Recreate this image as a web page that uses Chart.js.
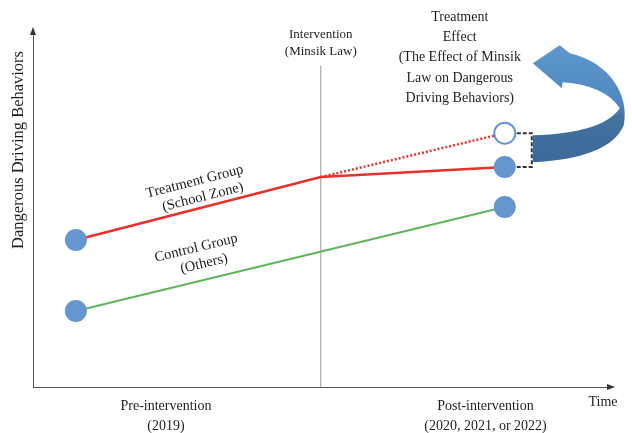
<!DOCTYPE html>
<html>
<head>
<meta charset="utf-8">
<script src="https://cdn.jsdelivr.net/npm/chart.js@4.4.0/dist/chart.umd.min.js"></script>
<style>
  html, body { margin: 0; padding: 0; background: #fff; }
  #wrap { width: 632px; height: 433px; }
</style>
</head>
<body>
<div id="wrap"><canvas id="chart"></canvas></div>
<script>
// Périodes (axe x) : 0 = avant, 1 = après
const prePeriod = 0;
const postPeriod = 1;
const interventionTime = 0.571;

// Séries
const treatmentValues = [4.12, 5.88, 6.16];      // pré, intervention, post
const counterfactualValues = [5.88, 7.11];       // intervention, post (sans la loi)
const controlValues = [2.13, 5.04];              // pré, post
const interventionLineTop = 9.0;

// Étiquettes
const periodLabels = [['Pre-intervention', '(2019)'], ['Post-intervention', '(2020, 2021, or 2022)']];
const periodLabelAt = [0.21, 0.955];
const yTitle = 'Dangerous Driving Behaviors';
const xTitle = 'Time';
const interventionLabel = ['Intervention', '(Minsik Law)'];
const effectLabel = ['Treatment', 'Effect', '(The Effect of Minsik', 'Law on Dangerous', 'Driving Behaviors)'];
const treatmentLabel = ['Treatment Group', '(School Zone)'];
const controlLabel = ['Control Group', '(Others)'];

const SERIF = '"Liberation Serif", "DejaVu Serif", serif';
const BLUE = '#6596cf';
const RED = '#e8312b';
const GREEN = '#5db75a';

// Annotations : flèches des axes, textes, accolade et flèche courbe
const annotations = {
    id: 'annotations',
    afterDraw(chart) {
        const ctx = chart.ctx;
        const x = chart.scales.x;
        const y = chart.scales.y;
        const area = chart.chartArea;

        ctx.save();
        // flèches des axes
        ctx.fillStyle = '#333';
        ctx.beginPath();
        ctx.moveTo(area.left, area.top - 3);
        ctx.lineTo(area.left - 3, area.top + 5);
        ctx.lineTo(area.left + 3, area.top + 5);
        ctx.fill();
        ctx.beginPath();
        ctx.moveTo(area.right + 3, area.bottom);
        ctx.lineTo(area.right - 5, area.bottom - 3);
        ctx.lineTo(area.right - 5, area.bottom + 3);
        ctx.fill();

        ctx.fillStyle = '#1e1e1e';
        ctx.textAlign = 'center';
        ctx.textBaseline = 'middle';

        // titre de l'axe y
        ctx.save();
        ctx.translate(19, y.getPixelForValue(6.64));
        ctx.rotate(-Math.PI / 2);
        ctx.font = '16.5px ' + SERIF;
        ctx.fillText(yTitle, 0, 0);
        ctx.restore();

        // titre de l'axe x
        ctx.font = '14px ' + SERIF;
        ctx.fillText(xTitle, area.right - 9, area.bottom + 15);

        // intervention
        const ix = x.getPixelForValue(interventionTime);
        ctx.font = '13px ' + SERIF;
        interventionLabel.forEach((t, i) => ctx.fillText(t, ix, 35 + i * 17));

        // effet du traitement
        const px = x.getPixelForValue(postPeriod);
        ctx.font = '14px ' + SERIF;
        effectLabel.forEach((t, i) => ctx.fillText(t, px - 45, 17 + i * 20.3));

        // étiquettes des groupes, inclinées le long des droites
        const drawRotated = (lines, xv, yv, dy, angle) => {
            ctx.save();
            ctx.translate(x.getPixelForValue(xv), y.getPixelForValue(yv) - dy);
            ctx.rotate(angle);
            ctx.font = '14.5px ' + SERIF;
            lines.forEach((t, i) => ctx.fillText(t, i * 4, (i - 0.5) * 17));
            ctx.restore();
        };
        const tSlope = (treatmentValues[1] - treatmentValues[0]) / interventionTime;
        drawRotated(treatmentLabel, 0.282, treatmentValues[0] + tSlope * 0.282, 19, -0.25);
        const cSlope = controlValues[1] - controlValues[0];
        drawRotated(controlLabel, 0.285, controlValues[0] + cSlope * 0.285, 25, -0.235);

        // accolade en pointillés entre contrefactuel et traité
        const cfY = y.getPixelForValue(counterfactualValues[1]);
        const trY = y.getPixelForValue(treatmentValues[2]);
        ctx.strokeStyle = '#333';
        ctx.lineWidth = 2;
        ctx.setLineDash([4, 2]);
        ctx.beginPath();
        ctx.moveTo(px + 12, cfY);
        ctx.lineTo(px + 27, cfY);
        ctx.lineTo(px + 27, trY);
        ctx.lineTo(px + 12, trY);
        ctx.stroke();
        ctx.setLineDash([]);

        // flèche courbe bleue
        const bx = px + 28;
        const by = cfY;
        const grad = ctx.createLinearGradient(0, by - 90, 0, by + 30);
        grad.addColorStop(0, '#5e97cd');
        grad.addColorStop(0.5, '#5089c1');
        grad.addColorStop(0.62, '#42729f');
        grad.addColorStop(1, '#3d6a98');
        ctx.fillStyle = grad;
        ctx.beginPath();
        ctx.moveTo(bx, by + 2);
        ctx.lineTo(bx, by + 29);
        ctx.quadraticCurveTo(bx + 77, by + 25, bx + 91, by - 8);
        ctx.bezierCurveTo(bx + 97, by - 38, bx + 77, by - 71, bx + 37, by - 80);
        ctx.lineTo(bx + 27, by - 88);
        ctx.lineTo(bx, by - 70);
        ctx.lineTo(bx + 29, by - 45);
        ctx.lineTo(bx + 30, by - 51);
        ctx.quadraticCurveTo(bx + 72, by - 48, bx + 87, by - 25);
        ctx.quadraticCurveTo(bx + 70, by, bx, by + 2);
        ctx.closePath();
        ctx.fill();
        ctx.restore();
    }
};

const config = {
    type: 'scatter',
    data: {
        datasets: [
            {
                label: 'Treatment Group',
                data: [
                    { x: prePeriod, y: treatmentValues[0] },
                    { x: interventionTime, y: treatmentValues[1] },
                    { x: postPeriod, y: treatmentValues[2] }
                ],
                showLine: true,
                borderColor: RED,
                borderWidth: 2.5,
                pointRadius: [11, 0, 11],
                pointBackgroundColor: BLUE,
                pointBorderWidth: 0
            },
            {
                label: 'Counterfactual',
                data: [
                    { x: interventionTime, y: counterfactualValues[0] },
                    { x: postPeriod, y: counterfactualValues[1] }
                ],
                showLine: true,
                borderColor: RED,
                borderWidth: 2.5,
                borderDash: [2, 2],
                pointRadius: [0, 10.5],
                pointBackgroundColor: '#fff',
                pointBorderColor: BLUE,
                pointBorderWidth: 2
            },
            {
                label: 'Control Group',
                data: [
                    { x: prePeriod, y: controlValues[0] },
                    { x: postPeriod, y: controlValues[1] }
                ],
                showLine: true,
                borderColor: GREEN,
                borderWidth: 2,
                pointRadius: 11,
                pointBackgroundColor: BLUE,
                pointBorderWidth: 0
            },
            {
                label: 'Intervention',
                data: [
                    { x: interventionTime, y: 0 },
                    { x: interventionTime, y: interventionLineTop }
                ],
                showLine: true,
                borderColor: '#999',
                borderWidth: 1,
                pointRadius: 0
            }
        ]
    },
    options: {
        responsive: true,
        maintainAspectRatio: false,
        animation: false,
        events: [],
        plugins: {
            legend: { display: false },
            tooltip: { enabled: false }
        },
        layout: {
            padding: { top: 30, right: 20, left: 0, bottom: 0 }
        },
        scales: {
            x: {
                type: 'linear',
                min: -0.1,
                max: 1.25,
                grid: { display: false, drawTicks: false },
                border: { display: true, color: '#555', width: 1 },
                afterBuildTicks: (scale) => {
                    scale.ticks = periodLabelAt.map(v => ({ value: v }));
                },
                afterFit: (scale) => { scale.height = 46; },
                ticks: {
                    autoSkip: false,
                    maxRotation: 0,
                    padding: 10,
                    color: '#1e1e1e',
                    font: { family: SERIF, size: 14, lineHeight: 1.4 },
                    callback: (value, index) => periodLabels[index]
                }
            },
            y: {
                min: 0,
                max: 10,
                grid: { display: false, drawTicks: false },
                border: { display: true, color: '#555', width: 1 },
                ticks: { display: false },
                afterFit: (scale) => { scale.width = 33; }
            }
        }
    },
    plugins: [annotations]
};

new Chart(document.getElementById('chart'), config);
</script>
</body>
</html>
